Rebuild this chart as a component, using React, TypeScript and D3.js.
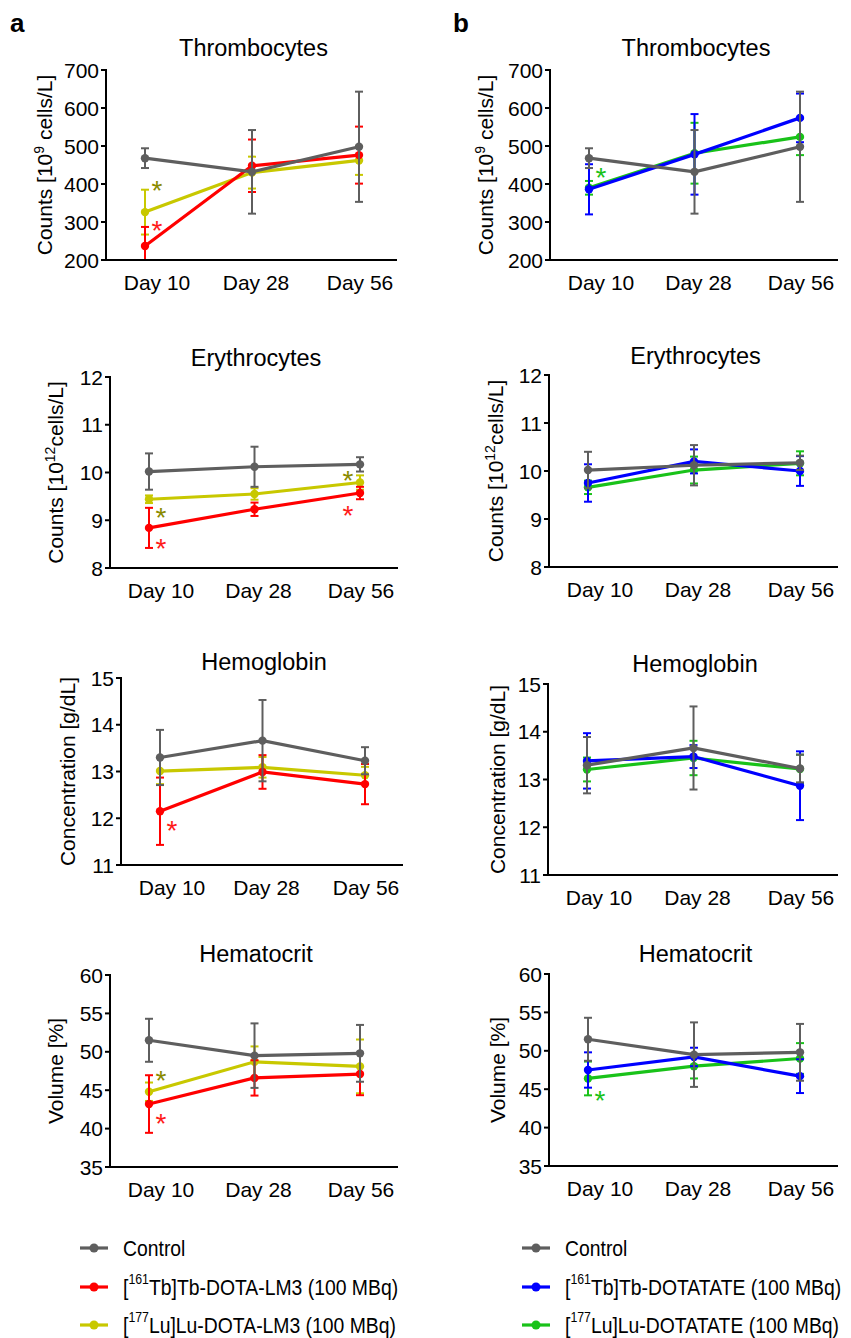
import React from "react";
import * as d3 from "d3";

// ---------- data ----------
const DAYS = ["Day 10", "Day 28", "Day 56"];

// Thrombocytes [10^9 cells/L]
const thrombocytesControl = [468, 432, 498];
const thrombocytesControlSD = [26, 110, 145];
const thrombocytesTbLM3 = [237, 448, 476];
const thrombocytesTbLM3SD = [50, 69, 75];
const thrombocytesLuLM3 = [326, 430, 462];
const thrombocytesLuLM3SD = [59, 42, 38];
const thrombocytesTbDOTATATE = [386, 478, 574];
const thrombocytesTbDOTATATESD = [66, 106, 64];
const thrombocytesLuDOTATATE = [390, 481, 524];
const thrombocytesLuDOTATATESD = [18, 80, 48];
const thrombocytesTicks = [200, 300, 400, 500, 600, 700];

// Erythrocytes [10^12 cells/L]
const erythrocytesControl = [10.02, 10.12, 10.17];
const erythrocytesControlSD = [0.38, 0.42, 0.15];
const erythrocytesTbLM3 = [8.84, 9.23, 9.57];
const erythrocytesTbLM3SD = [0.42, 0.14, 0.13];
const erythrocytesLuLM3 = [9.44, 9.55, 9.79];
const erythrocytesLuLM3SD = [0.08, 0.12, 0.15];
const erythrocytesTbDOTATATE = [9.75, 10.2, 10.0];
const erythrocytesTbDOTATATESD = [0.39, 0.25, 0.31];
const erythrocytesLuDOTATATE = [9.66, 10.02, 10.16];
const erythrocytesLuDOTATATESD = [0.14, 0.28, 0.25];
const erythrocytesTicks = [8, 9, 10, 11, 12];

// Hemoglobin [g/dL]
const hemoglobinControl = [13.3, 13.66, 13.23];
const hemoglobinControlSD = [0.59, 0.87, 0.29];
const hemoglobinTbLM3 = [12.15, 12.99, 12.73];
const hemoglobinTbLM3SD = [0.72, 0.36, 0.43];
const hemoglobinLuLM3 = [13.01, 13.09, 12.92];
const hemoglobinLuLM3SD = [0.28, 0.22, 0.18];
const hemoglobinTbDOTATATE = [13.39, 13.48, 12.87];
const hemoglobinTbDOTATATESD = [0.58, 0.24, 0.72];
const hemoglobinLuDOTATATE = [13.21, 13.45, 13.22];
const hemoglobinLuDOTATATESD = [0.25, 0.36, 0.3];
const hemoglobinTicks = [11, 12, 13, 14, 15];

// Hematocrit [%]
const hematocritControl = [51.5, 49.5, 49.8];
const hematocritControlSD = [2.8, 4.2, 3.7];
const hematocritTbLM3 = [43.2, 46.6, 47.1];
const hematocritTbLM3SD = [3.75, 2.3, 2.75];
const hematocritLuLM3 = [44.8, 48.7, 48.1];
const hematocritLuLM3SD = [1.2, 2.0, 3.5];
const hematocritTbDOTATATE = [47.5, 49.2, 46.7];
const hematocritTbDOTATATESD = [2.3, 1.2, 2.2];
const hematocritLuDOTATATE = [46.4, 48.0, 49.0];
const hematocritLuDOTATATESD = [2.2, 1.6, 2.0];
const hematocritTicks = [35, 40, 45, 50, 55, 60];

// significance markers: [day index, value anchor, series key, side]
const asterisksThrombocytesA = [
  [0, 397, "luLM3", 1],
  [0, 292, "tbLM3", 1],
];
const asterisksThrombocytesB = [[0, 432, "luDOTATATE", 1]];
const asterisksErythrocytesA = [
  [0, 9.17, "luLM3", 1],
  [0, 8.52, "tbLM3", 1],
  [2, 9.95, "luLM3", -1],
  [2, 9.21, "tbLM3", -1],
];
const asterisksHemoglobinA = [[0, 11.86, "tbLM3", 1]];
const asterisksHematocritA = [
  [0, 46.98, "luLM3", 1],
  [0, 41.4, "tbLM3", 1],
];
const asterisksHematocritB = [[0, 44.24, "luDOTATATE", 1]];

// ---------- styles ----------
const FONT = "'Liberation Sans', Arial, Helvetica, sans-serif";
const COLORS: Record<string, string> = {
  control: "#5e5e5e",
  tbLM3: "#ff0000",
  luLM3: "#c8c800",
  tbDOTATATE: "#0000ff",
  luDOTATATE: "#19c219",
};
const STAR_COLORS: Record<string, string> = {
  tbLM3: "#ff1a1a",
  luLM3: "#8a8a00",
  luDOTATATE: "#19c219",
  tbDOTATATE: "#0000ff",
};
const DAY_LABEL_SHIFT = [12, 4, 1];

type Series = { key: string; mean: number[]; sd: number[] };

type PanelDef = {
  title: string;
  titleY: number;
  left: number;
  right: number;
  top: number;
  bottom: number;
  domain: [number, number];
  ticks: number[];
  label: React.ReactNode;
  labelX: number;
  series: Series[];
  stars: any[];
};

const mk = (key: string, mean: number[], sd: number[]): Series => ({ key, mean, sd });

const labelCounts = (exp: string, space: boolean) => (
  <>
    Counts [10
    <tspan dy={-8} fontSize={14}>
      {exp}
    </tspan>
    <tspan dy={8}>{space ? " cells/L]" : "cells/L]"}</tspan>
  </>
);

const panels: PanelDef[] = [
  {
    title: "Thrombocytes", titleY: 56, left: 106, right: 397, top: 70, bottom: 260,
    domain: [200, 700], ticks: thrombocytesTicks, label: labelCounts("9", true), labelX: 52,
    series: [
      mk("luLM3", thrombocytesLuLM3, thrombocytesLuLM3SD),
      mk("tbLM3", thrombocytesTbLM3, thrombocytesTbLM3SD),
      mk("control", thrombocytesControl, thrombocytesControlSD),
    ],
    stars: asterisksThrombocytesA,
  },
  {
    title: "Thrombocytes", titleY: 56, left: 550, right: 838, top: 70, bottom: 260,
    domain: [200, 700], ticks: thrombocytesTicks, label: labelCounts("9", true), labelX: 493,
    series: [
      mk("luDOTATATE", thrombocytesLuDOTATATE, thrombocytesLuDOTATATESD),
      mk("tbDOTATATE", thrombocytesTbDOTATATE, thrombocytesTbDOTATATESD),
      mk("control", thrombocytesControl, thrombocytesControlSD),
    ],
    stars: asterisksThrombocytesB,
  },
  {
    title: "Erythrocytes", titleY: 366, left: 110, right: 398, top: 377, bottom: 568,
    domain: [8, 12], ticks: erythrocytesTicks, label: labelCounts("12", false), labelX: 63,
    series: [
      mk("luLM3", erythrocytesLuLM3, erythrocytesLuLM3SD),
      mk("tbLM3", erythrocytesTbLM3, erythrocytesTbLM3SD),
      mk("control", erythrocytesControl, erythrocytesControlSD),
    ],
    stars: asterisksErythrocytesA,
  },
  {
    title: "Erythrocytes", titleY: 364, left: 549, right: 838, top: 375, bottom: 567,
    domain: [8, 12], ticks: erythrocytesTicks, label: labelCounts("12", false), labelX: 503,
    series: [
      mk("luDOTATATE", erythrocytesLuDOTATATE, erythrocytesLuDOTATATESD),
      mk("tbDOTATATE", erythrocytesTbDOTATATE, erythrocytesTbDOTATATESD),
      mk("control", erythrocytesControl, erythrocytesControlSD),
    ],
    stars: [],
  },
  {
    title: "Hemoglobin", titleY: 670, left: 121, right: 403, top: 678, bottom: 865,
    domain: [11, 15], ticks: hemoglobinTicks, label: <>Concentration [g/dL]</>, labelX: 75,
    series: [
      mk("luLM3", hemoglobinLuLM3, hemoglobinLuLM3SD),
      mk("tbLM3", hemoglobinTbLM3, hemoglobinTbLM3SD),
      mk("control", hemoglobinControl, hemoglobinControlSD),
    ],
    stars: asterisksHemoglobinA,
  },
  {
    title: "Hemoglobin", titleY: 672, left: 548, right: 838, top: 684, bottom: 875,
    domain: [11, 15], ticks: hemoglobinTicks, label: <>Concentration [g/dL]</>, labelX: 505,
    series: [
      mk("luDOTATATE", hemoglobinLuDOTATATE, hemoglobinLuDOTATATESD),
      mk("tbDOTATATE", hemoglobinTbDOTATATE, hemoglobinTbDOTATATESD),
      mk("control", hemoglobinControl, hemoglobinControlSD),
    ],
    stars: [],
  },
  {
    title: "Hematocrit", titleY: 962, left: 110, right: 398, top: 975, bottom: 1167,
    domain: [35, 60], ticks: hematocritTicks, label: <>Volume [%]</>, labelX: 63,
    series: [
      mk("luLM3", hematocritLuLM3, hematocritLuLM3SD),
      mk("tbLM3", hematocritTbLM3, hematocritTbLM3SD),
      mk("control", hematocritControl, hematocritControlSD),
    ],
    stars: asterisksHematocritA,
  },
  {
    title: "Hematocrit", titleY: 962, left: 549, right: 838, top: 974, bottom: 1166,
    domain: [35, 60], ticks: hematocritTicks, label: <>Volume [%]</>, labelX: 505,
    series: [
      mk("luDOTATATE", hematocritLuDOTATATE, hematocritLuDOTATATESD),
      mk("tbDOTATATE", hematocritTbDOTATATE, hematocritTbDOTATATESD),
      mk("control", hematocritControl, hematocritControlSD),
    ],
    stars: asterisksHematocritB,
  },
];

function Panel({ p }: { p: PanelDef }) {
  const x = d3.scalePoint<string>().domain(DAYS).range([p.left + 39, p.right - 38]);
  const y = d3.scaleLinear().domain(p.domain).range([p.bottom, p.top]);
  const line = d3
    .line<number>()
    .x((_, i) => x(DAYS[i]) as number)
    .y((d) => y(d));
  const cap = 4;
  const [lo, hi] = p.domain;
  const midX = (p.left + p.right) / 2 + 2;
  return (
    <g>
      <text x={midX} y={p.titleY} textAnchor="middle" fontSize={23.5} fontFamily={FONT}>
        {p.title}
      </text>
      {/* series */}
      {p.series.map((s) => {
        const c = COLORS[s.key];
        return (
          <g key={s.key}>
            {s.mean.map((m, i) => {
              const cx = x(DAYS[i]) as number;
              const up = m + s.sd[i];
              const dn = m - s.sd[i];
              const yUp = y(Math.min(up, hi));
              const yDn = y(Math.max(dn, lo));
              return (
                <g key={i} stroke={c} strokeWidth={2}>
                  <line x1={cx} x2={cx} y1={yUp} y2={yDn} />
                  {up <= hi && <line x1={cx - cap} x2={cx + cap} y1={yUp} y2={yUp} />}
                  {dn >= lo && <line x1={cx - cap} x2={cx + cap} y1={yDn} y2={yDn} />}
                </g>
              );
            })}
            <path d={line(s.mean) || ""} fill="none" stroke={c} strokeWidth={3.2} />
            {s.mean.map((m, i) => (
              <circle key={i} cx={x(DAYS[i]) as number} cy={y(m)} r={4.2} fill={c} />
            ))}
          </g>
        );
      })}
      {/* axes */}
      <line x1={p.left} x2={p.left} y1={p.top - 1} y2={p.bottom + 1} stroke="#000" strokeWidth={2} />
      <line x1={p.left - 1} x2={p.right} y1={p.bottom} y2={p.bottom} stroke="#000" strokeWidth={2} />
      {p.ticks.map((t) => (
        <g key={t}>
          <line x1={p.left - 5} x2={p.left} y1={y(t)} y2={y(t)} stroke="#000" strokeWidth={2} />
          <text
            x={p.left - 7}
            y={y(t)}
            textAnchor="end"
            dominantBaseline="central"
            fontSize={21}
            fontFamily={FONT}
          >
            {t}
          </text>
        </g>
      ))}
      {DAYS.map((d, i) => (
        <text
          key={d}
          x={(x(d) as number) + DAY_LABEL_SHIFT[i]}
          y={p.bottom + 30}
          textAnchor="middle"
          fontSize={21}
          fontFamily={FONT}
        >
          {d}
        </text>
      ))}
      <text
        transform={`translate(${p.labelX},${(p.top + p.bottom) / 2}) rotate(-90)`}
        textAnchor="middle"
        fontSize={21}
        fontFamily={FONT}
      >
        {p.label}
      </text>
      {p.stars.map((s: any, i: number) => {
        const cx = (x(DAYS[s[0]]) as number) + 12 * s[3];
        const cy = y(s[1]);
        return (
          <text
            key={i}
            x={cx}
            y={cy + 15}
            textAnchor="middle"
            fontSize={28}
            fontFamily={FONT}
            fill={STAR_COLORS[s[2]]}
          >
            *
          </text>
        );
      })}
    </g>
  );
}

const legendLeft = [
  { key: "control", iso: "", name: "Control" },
  { key: "tbLM3", iso: "161", name: "Tb]Tb-DOTA-LM3 (100 MBq)" },
  { key: "luLM3", iso: "177", name: "Lu]Lu-DOTA-LM3 (100 MBq)" },
];
const legendRight = [
  { key: "control", iso: "", name: "Control" },
  { key: "tbDOTATATE", iso: "161", name: "Tb]Tb-DOTATATE (100 MBq)" },
  { key: "luDOTATATE", iso: "177", name: "Lu]Lu-DOTATATE (100 MBq)" },
];
const legendRows = [1248, 1287, 1325];

function Legend({ items, x0 }: { items: typeof legendLeft; x0: number }) {
  return (
    <g>
      {items.map((it, i) => {
        const cy = legendRows[i];
        const c = COLORS[it.key];
        return (
          <g key={it.key}>
            <line x1={x0} x2={x0 + 28} y1={cy} y2={cy} stroke={c} strokeWidth={3.2} />
            <circle cx={x0 + 14} cy={cy} r={4.5} fill={c} />
            <g transform={`translate(${x0 + 43},${cy}) scale(0.88,1)`}>
              <text x={0} y={0} dominantBaseline="central" fontSize={22} fontFamily={FONT}>
                {it.iso ? (
                  <>
                    [
                    <tspan dy={-8} fontSize={14}>
                      {it.iso}
                    </tspan>
                    <tspan dy={8}>{it.name}</tspan>
                  </>
                ) : (
                  it.name
                )}
              </text>
            </g>
          </g>
        );
      })}
    </g>
  );
}

export default function App() {
  return (
    <svg
      width={851}
      height={1338}
      viewBox="0 0 851 1338"
      style={{ position: "absolute", left: 0, top: 0, background: "#fff" }}
    >
      <rect x={0} y={0} width={851} height={1338} fill="#fff" />
      <text x={10} y={32} fontSize={26} fontWeight="bold" fontFamily={FONT}>
        a
      </text>
      <text x={453} y={32} fontSize={26} fontWeight="bold" fontFamily={FONT}>
        b
      </text>
      {panels.map((p, i) => (
        <Panel key={i} p={p} />
      ))}
      <Legend items={legendLeft} x0={80} />
      <Legend items={legendRight} x0={522} />
    </svg>
  );
}
